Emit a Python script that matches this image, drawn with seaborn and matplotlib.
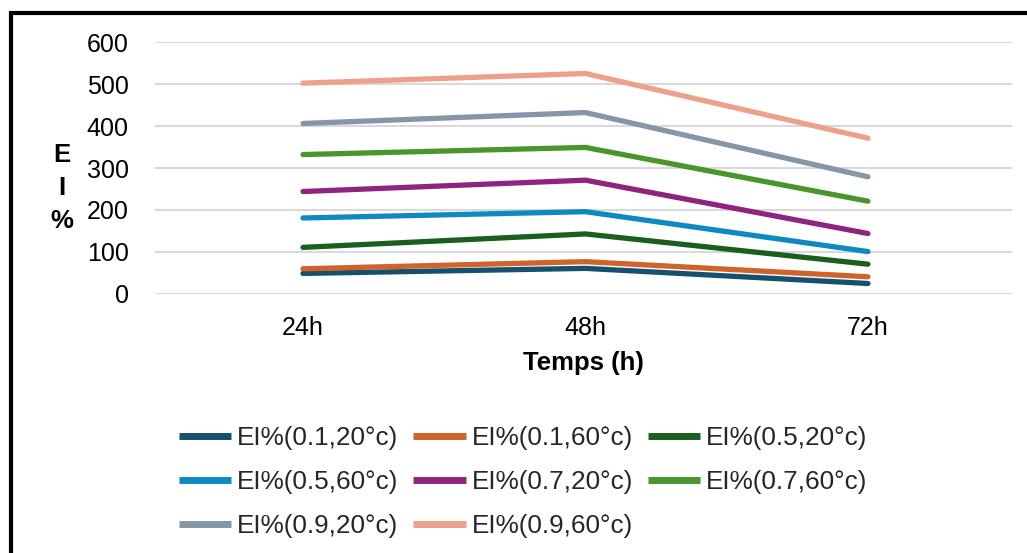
import matplotlib
matplotlib.use("Agg")
import matplotlib.pyplot as plt
import seaborn as sns
import pandas as pd
from matplotlib.patches import Rectangle

times = ["24h", "48h", "72h"]
series_names = ["EI%(0.1,20°c)", "EI%(0.1,60°c)", "EI%(0.5,20°c)", "EI%(0.5,60°c)",
                "EI%(0.7,20°c)", "EI%(0.7,60°c)", "EI%(0.9,20°c)", "EI%(0.9,60°c)"]
ei_01_20 = [49, 61, 25]
ei_01_60 = [60, 77, 41]
ei_05_20 = [111, 143, 71]
ei_05_60 = [181, 196, 101]
ei_07_20 = [244, 271, 144]
ei_07_60 = [332, 349, 221]
ei_09_20 = [406, 432, 279]
ei_09_60 = [502, 525, 371]
colors = ["#17506e", "#d0622b", "#1a5e20", "#0e8ac0",
          "#8e2380", "#4b962a", "#8497a8", "#eea08a"]

values = [ei_01_20, ei_01_60, ei_05_20, ei_05_60, ei_07_20, ei_07_60, ei_09_20, ei_09_60]
rows = []
for name, vals in zip(series_names, values):
    for t, v in zip(times, vals):
        rows.append({"Temps": t, "EI": v, "Série": name})
df = pd.DataFrame(rows)

sns.set_theme(style="white")
plt.rcParams["font.family"] = ["Liberation Sans", "DejaVu Sans"]

fig = plt.figure(figsize=(10.27, 5.53), dpi=100)
W, H = 1027, 553
ax = fig.add_axes([155 / W, 1 - 294 / H, (1012 - 155) / W, (294 - 42) / H])

sns.lineplot(data=df, x="Temps", y="EI", hue="Série", hue_order=series_names,
             palette=colors, linewidth=3.8, ax=ax, legend=True, sort=False)

ax.set_ylim(0, 600)
ax.set_yticks([0, 100, 200, 300, 400, 500, 600])
ax.set_xlim(-0.524, 2.51)
ax.grid(axis="y", color="#d9d9d9", linewidth=1.5)
ax.grid(axis="x", visible=False)
ax.set_axisbelow(True)
for s in ax.spines.values():
    s.set_visible(False)
ax.tick_params(axis="y", length=0, pad=19, labelsize=18, colors="black")
ax.tick_params(axis="x", length=0, pad=16, labelsize=18, colors="black")
ax.set_xlabel("Temps (h)", fontsize=18.5, fontweight="bold", labelpad=8, color="black")
ax.set_ylabel("E\nI\n%", rotation=0, fontsize=18.5, fontweight="bold", linespacing=1.45,
              color="black", va="center", ha="center")
ax.yaxis.set_label_coords((62 - 155) / (1012 - 155), (294 - 188) / (294 - 42))

handles, labels = ax.get_legend_handles_labels()
ax.get_legend().remove()
order = [0, 3, 6, 1, 4, 7, 2, 5]
leg = fig.legend([handles[i] for i in order], [labels[i] for i in order],
                 ncol=3, loc="upper left", bbox_to_anchor=(179 / W, 1 - 426 / H),
                 frameon=False, fontsize=18.8, handlelength=2.0, handletextpad=0.22,
                 columnspacing=0.58, labelspacing=0.76, borderpad=0, borderaxespad=0)
for lh in leg.get_lines():
    lh.set_linewidth(5)
    lh.set_solid_capstyle("butt")

fig.patches.append(Rectangle((11 / W, -0.2), 1.2, 1 - 13 / H + 0.2,
                             transform=fig.transFigure, fill=False,
                             edgecolor="black", linewidth=3, zorder=10))

fig.savefig("out.png", dpi=100)
